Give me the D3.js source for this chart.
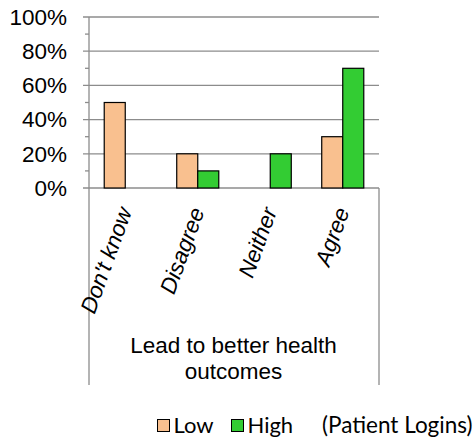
<!DOCTYPE html>
<html><head><meta charset="utf-8">
<script src="https://cdn.jsdelivr.net/npm/d3@7"></script>
<style>body{margin:0;background:#fff}svg{display:block}</style>
</head><body>
<script>
const categories = ["Don't know", "Disagree", "Neither", "Agree"];
const series = ["Low", "High"];
const lowValues = [50, 20, 0, 30];
const highValues = [0, 10, 20, 70];
const yTicks = [0, 20, 40, 60, 80, 100];
const groupLabel = ["Lead to better health", "outcomes"];
const legendNote = "(Patient Logins)";
const colors = {Low: "#F9C08F", High: "#33CC33"};

const W = 473, H = 438;
const svg = d3.select("body").append("svg").attr("width", W).attr("height", H);
svg.append("rect").attr("width", W).attr("height", H).attr("fill", "#fff");

const L = 89, R = 379, T = 17, B = 188, AB = 385;
const FS = 22.5;
const y = d3.scaleLinear().domain([0, 100]).range([B, T]);
const x0 = d3.scaleBand().domain(categories).range([L, R]);
const bw = x0.bandwidth();
const x1 = d3.scaleBand().domain(series).range([0.21 * bw, 0.79 * bw]);

// gridlines
svg.append("g").selectAll("line").data(yTicks).join("line")
  .attr("x1", L - 6).attr("x2", R).attr("y1", d => y(d)).attr("y2", d => y(d))
  .attr("stroke", "#8c8c8c").attr("stroke-width", 1.3);
// minor ticks
svg.append("g").selectAll("line").data(d3.range(10, 100, 20)).join("line")
  .attr("x1", L - 4).attr("x2", L).attr("y1", d => y(d)).attr("y2", d => y(d))
  .attr("stroke", "#8c8c8c").attr("stroke-width", 1.3);
// y axis labels
const yAxis = d3.axisLeft(y).tickValues(yTicks).tickFormat(d => d + "%").tickSize(0).tickPadding(22);
const ya = svg.append("g").attr("transform", `translate(${L},0)`).call(yAxis);
ya.select(".domain").remove();
ya.selectAll("text").attr("font-family", "Liberation Sans, Arial, sans-serif").attr("font-size", FS).attr("fill", "#000");

// axis frame
svg.append("line").attr("x1", L).attr("x2", L).attr("y1", T).attr("y2", AB).attr("stroke", "#8c8c8c").attr("stroke-width", 1.3);
svg.append("line").attr("x1", R).attr("x2", R).attr("y1", B).attr("y2", AB).attr("stroke", "#8c8c8c").attr("stroke-width", 1.3);

// bars
const data = [];
categories.forEach((c, i) => {
  data.push({c, s: "Low", v: lowValues[i]});
  data.push({c, s: "High", v: highValues[i]});
});
svg.append("g").selectAll("rect").data(data.filter(d => d.v > 0)).join("rect")
  .attr("x", d => x0(d.c) + x1(d.s)).attr("width", x1.bandwidth())
  .attr("y", d => y(d.v)).attr("height", d => B - y(d.v))
  .attr("fill", d => colors[d.s]).attr("stroke", "#000").attr("stroke-width", 1.2);

// category labels
svg.append("g").selectAll("text").data(categories).join("text")
  .attr("transform", d => `translate(${x0(d) + bw / 2 + 7},211) rotate(-70)`)
  .attr("text-anchor", "end").attr("font-style", "italic")
  .attr("font-family", "Liberation Sans, Arial, sans-serif").attr("font-size", FS)
  .text(d => d);

// group label
svg.append("g").selectAll("text").data(groupLabel).join("text")
  .attr("x", (L + R) / 2 - 0.5).attr("y", (d, i) => 353 + i * 26)
  .attr("text-anchor", "middle")
  .attr("font-family", "Liberation Sans, Arial, sans-serif").attr("font-size", FS)
  .text(d => d);

// legend
const lg = svg.append("g");
const legX = [157.5, 231.5];
series.forEach((s, i) => {
  lg.append("rect").attr("x", legX[i]).attr("y", 419.5).attr("width", 12).attr("height", 12)
    .attr("fill", colors[s]).attr("stroke", "#000").attr("stroke-width", 1);
  lg.append("text").attr("x", legX[i] + 16).attr("y", 433)
    .attr("font-family", "Lato, Carlito, Calibri, sans-serif").attr("font-size", 22).text(s);
});
lg.append("text").attr("x", 322).attr("y", 433)
  .attr("font-family", "Lato, Carlito, Calibri, sans-serif").attr("font-size", 22.5).text(legendNote);
</script>
</body></html>
